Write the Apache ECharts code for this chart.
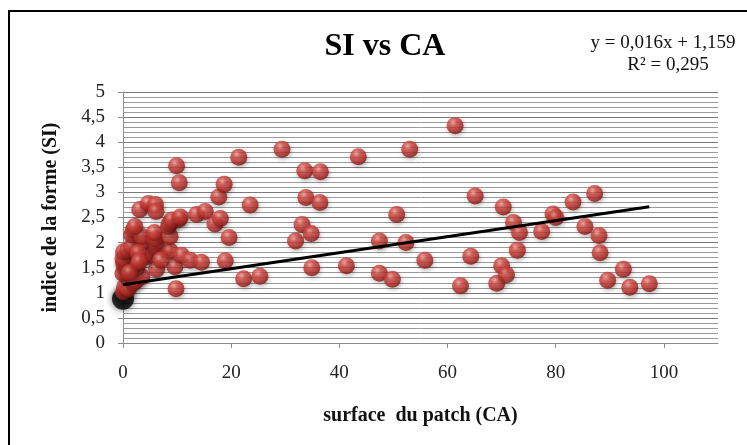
<!DOCTYPE html>
<html>
<head>
<meta charset="utf-8">
<script src="https://cdn.jsdelivr.net/npm/echarts@6/dist/echarts.min.js"></script>
<style>html,body{margin:0;padding:0;background:#fff;}#c{width:747px;height:445px;}</style>
</head>
<body>
<div id="c"></div>
<script>
// ---- data ----
var caX = [0.1,0.3,1.0,1.9,0.8,2.5,3.5,0.0,0.4,2.5,0.1,2.2,0.0,6.2,9.6,4.4,0.1,0.9,1.6,4.0,5.9,7.6,8.7,10.8,12.4,14.5,3.5,6.1,1.6,1.9,3.5,5.9,5.8,8.7,8.4,2.2,8.6,10.3,9.0,10.6,3.1,4.7,6.0,6.1,9.9,10.4,9.8,13.6,15.2,2.8,7.0,1.2,3.0,
  17.0,18.0,17.7,18.7,19.6,18.9,21.4,23.5,22.3,25.3,29.4,31.9,33.1,33.6,33.8,34.8,34.9,36.5,36.4,41.3,43.5,47.4,47.4,49.8,50.6,52.3,53.0,55.8,61.4,62.4,64.3,65.1,69.1,70.0,70.9,70.3,72.2,73.3,72.9,77.4,79.5,80.0,83.2,85.4,87.2,88.0,88.2,89.6,92.5,93.7,97.3];
var siY = [1.02,1.12,1.08,1.19,1.30,1.25,1.32,1.39,1.50,1.49,1.59,1.57,1.68,1.47,1.52,1.72,1.82,1.85,1.92,1.75,1.92,1.87,1.83,1.75,1.65,1.61,2.00,1.99,2.15,2.25,2.12,2.08,2.20,2.12,2.32,2.32,2.38,2.46,2.45,2.51,2.66,2.78,2.76,2.62,3.53,3.19,1.08,2.56,2.62,1.80,1.65,1.40,1.62,
  2.37,2.48,2.91,3.16,2.10,1.64,3.70,2.75,1.28,1.33,3.86,2.03,2.36,3.43,2.90,2.18,1.50,3.41,2.80,1.54,3.71,2.03,1.39,1.27,2.56,2.00,3.86,1.65,4.33,1.14,1.73,2.93,1.19,1.54,1.36,2.71,2.40,2.20,1.85,2.22,2.57,2.50,2.81,2.32,2.98,2.14,1.80,1.25,1.47,1.11,1.18];
var darkX = [0];
var darkY = [0.88];
var trendSlope = 0.016;
var trendIntercept = 1.159;
var trendRangeX = [0, 97.3];
var xTicks = [0, 20, 40, 60, 80, 100];
var titleText = 'SI vs CA';
var equationLines = ['y = 0,016x + 1,159', 'R\u00b2 = 0,295'];
var xName = 'surface  du patch (CA)';
var yName = 'indice de la forme (SI)';

// ---- build ----
var pts = caX.map(function (x, i) { return [x, siY[i]]; });
var darkPts = darkX.map(function (x, i) { return [x, darkY[i]]; });
var trendPts = trendRangeX.map(function (x) { return [x, trendIntercept + trendSlope * x]; });
var serif = '"Liberation Serif", "DejaVu Serif", serif';

var sphere = {
  type: 'radial', x: 0.38, y: 0.32, r: 0.72,
  colorStops: [
    { offset: 0, color: '#f2a49c' },
    { offset: 0.3, color: '#d44a43' },
    { offset: 0.75, color: '#ac2520' },
    { offset: 1, color: '#761410' }
  ]
};

var chart = echarts.init(document.getElementById('c'), null, { renderer: 'canvas' });
chart.setOption({
  animation: false,
  backgroundColor: '#fff',
  grid: { left: 123, top: 92, right: 29, bottom: 102, containLabel: false },
  xAxis: {
    type: 'value', min: 0, max: 110, interval: 20,
    name: xName, nameLocation: 'middle', nameGap: 63,
    nameTextStyle: { fontFamily: serif, fontWeight: 'bold', fontSize: 20, color: '#111' },
    axisLine: { show: true, lineStyle: { color: '#8c8c8c', width: 1 } },
    axisTick: { show: true, length: 5, inside: false, customValues: xTicks, lineStyle: { color: '#8c8c8c' } },
    axisLabel: { customValues: xTicks, fontFamily: serif, fontSize: 19, color: '#222', margin: 21 },
    splitLine: { show: false }
  },
  yAxis: {
    type: 'value', min: 0, max: 5, interval: 0.5,
    name: yName, nameLocation: 'middle', nameGap: 62,
    nameTextStyle: { fontFamily: serif, fontWeight: 'bold', fontSize: 20, color: '#111' },
    axisLine: { show: true, lineStyle: { color: '#8c8c8c', width: 1 } },
    axisTick: { show: true, length: 5, lineStyle: { color: '#8c8c8c' } },
    axisLabel: {
      fontFamily: serif, fontSize: 19, color: '#222', margin: 18,
      formatter: function (v) { return String(v).replace('.', ','); }
    },
    splitLine: { show: true, lineStyle: { color: '#7a7a7a', width: 1 } },
    minorTick: { show: false, splitNumber: 5 },
    minorSplitLine: { show: true, lineStyle: { color: '#9a9a9a', width: 1 } }
  },
  graphic: [
    { type: 'rect', shape: { x: 9, y: 11, width: 800, height: 500 }, style: { fill: 'none', stroke: '#000', lineWidth: 2 }, silent: true },
    { type: 'text', x: 385, y: 47, style: { text: titleText, font: 'bold 32px ' + serif, fill: '#000', textAlign: 'center', textVerticalAlign: 'middle' } },
    { type: 'text', x: 663, y: 43, style: { text: equationLines[0], font: '19px ' + serif, fill: '#111', textAlign: 'center', textVerticalAlign: 'middle' } },
    { type: 'text', x: 668, y: 65, style: { text: equationLines[1], font: '19px ' + serif, fill: '#111', textAlign: 'center', textVerticalAlign: 'middle' } }
  ],
  series: [
    {
      type: 'scatter', data: darkPts, symbol: 'circle', symbolSize: 22, z: 2,
      itemStyle: { color: '#050505', shadowColor: 'rgba(0,0,0,0.8)', shadowBlur: 6 }
    },
    {
      type: 'scatter', data: pts, symbol: 'circle', symbolSize: 17, z: 3,
      itemStyle: { color: sphere, shadowColor: 'rgba(0,0,0,0.35)', shadowBlur: 4, shadowOffsetX: 1, shadowOffsetY: 2 }
    },
    {
      type: 'line', data: trendPts, symbol: 'none', z: 5,
      lineStyle: { color: '#000', width: 3 }
    }
  ]
});
</script>
</body>
</html>
